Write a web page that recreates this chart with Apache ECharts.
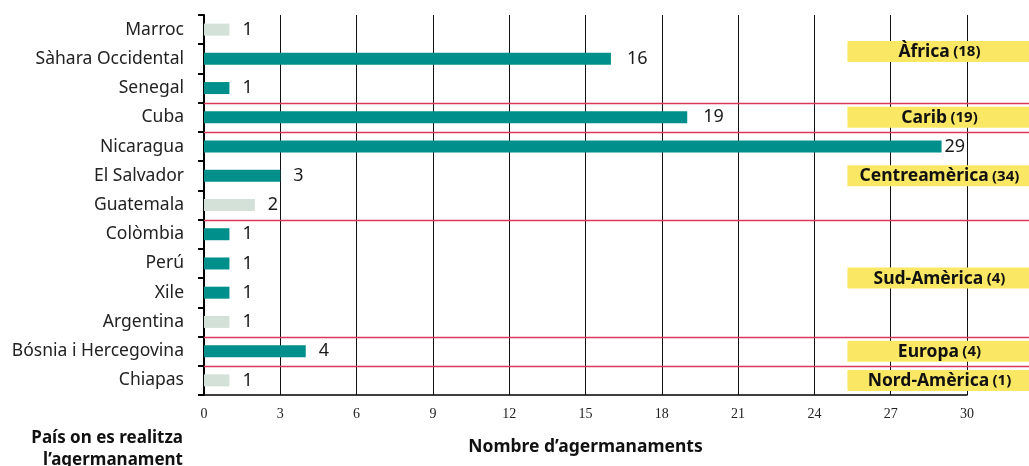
<!DOCTYPE html>
<html>
<head>
<meta charset="utf-8">
<script src="https://cdn.jsdelivr.net/npm/echarts@6/dist/echarts.min.js"></script>
<style>
html,body{margin:0;padding:0;background:#fff;}
#chart{width:1029px;height:466px;}
</style>
</head>
<body>
<div id="chart"></div>
<script>
const categories = ['Marroc','Sàhara Occidental','Senegal','Cuba','Nicaragua','El Salvador','Guatemala','Colòmbia','Perú','Xile','Argentina','Bósnia i Hercegovina','Chiapas'];
const values = [1,16,1,19,29,3,2,1,1,1,1,4,1];
const lightRows = ['Marroc','Guatemala','Argentina','Chiapas'];
const xTicks = [0,3,6,9,12,15,18,21,24,27,30];
const regionNames = ['Àfrica','Carib','Centreamèrica','Sud-Amèrica','Europa','Nord-Amèrica'];
const regionCounts = [18,19,34,4,4,1];
const regionFirst = [0,3,4,7,11,12];
const regionLast = [2,3,6,10,11,12];
const xAxisName = 'Nombre d’agermanaments';
const yAxisName = 'País on es realitza\nl’agermanament';

const TEAL = '#008F8A', LIGHT = '#D4E1D9', RED = '#D93A5C', YELLOW = '#FAE864';
const FONT = 'Noto Sans';

const chart = echarts.init(document.getElementById('chart'));
const option = {
  animation: false,
  grid: {left: 204, right: 62, top: 15, bottom: 71, containLabel: false},
  xAxis: {
    type: 'value', min: 0, max: 30, interval: 3,
    axisLine: {show: true, lineStyle: {color: '#000', width: 1.5}},
    axisTick: {show: false},
    splitLine: {show: true, lineStyle: {color: '#111', width: 1}},
    axisLabel: {fontFamily: 'Liberation Serif', fontSize: 14, color: '#222', margin: 12,
      formatter: v => xTicks.includes(v) ? String(v) : ''},
    name: xAxisName, nameLocation: 'middle', nameGap: 43,
    nameTextStyle: {fontFamily: FONT, fontWeight: 'bold', fontSize: 17.5, color: '#111'}
  },
  yAxis: {
    type: 'category', data: categories, inverse: true,
    axisLine: {show: true, lineStyle: {color: '#000', width: 2}},
    axisTick: {show: true, length: 6, lineStyle: {color: '#000', width: 2}},
    axisLabel: {fontFamily: FONT, fontSize: 17.5, color: '#222', margin: 20},
    splitLine: {show: false}
  },
  series: [{
    type: 'bar', barWidth: 12,
    data: values.map((v, i) => ({
      value: v,
      itemStyle: {color: lightRows.includes(categories[i]) ? LIGHT : TEAL},
      label: {distance: v >= 29 ? 3 : (v >= 10 ? 16 : 13)}
    })),
    label: {show: true, position: 'right', fontFamily: FONT, fontSize: 18, color: '#1a1a1a'}
  }]
};
chart.setOption(option);

function yAt(idx) {
  const y0 = chart.convertToPixel({yAxisIndex: 0}, 0);
  const y1 = chart.convertToPixel({yAxisIndex: 0}, 1);
  return y0 + idx * (y1 - y0);
}
const x0 = chart.convertToPixel({xAxisIndex: 0}, 0);
const boxLeft = chart.convertToPixel({xAxisIndex: 0}, 25.3);
const W = chart.getWidth();
const graphics = [];
for (let r = 0; r < regionLast.length - 1; r++) {
  const y = Math.round(yAt(regionLast[r] + 0.5)) + 0.5;
  graphics.push({type: 'line', z: 10, shape: {x1: x0, y1: y, x2: W, y2: y}, style: {stroke: RED, lineWidth: 1.5}});
}
regionNames.forEach((name, r) => {
  let c = (regionFirst[r] + regionLast[r]) / 2;
  if (r === 0) c -= 0.25;
  const yc = yAt(c);
  graphics.push({type: 'rect', z: 20, shape: {x: boxLeft, y: yc - 10.5, width: W - boxLeft, height: 21}, style: {fill: YELLOW}});
  graphics.push({type: 'text', z: 21, x: boxLeft + 92, y: yc + 0.5,
    style: {text: '{a|' + name + '} {b|(' + regionCounts[r] + ')}', align: 'center', verticalAlign: 'middle',
      rich: {a: {fontFamily: FONT, fontWeight: 'bold', fontSize: 17.5, fill: '#111'},
             b: {fontFamily: FONT, fontWeight: 'bold', fontSize: 15, fill: '#111'}}}});
});
graphics.push({type: 'text', x: 183, y: 427,
  style: {text: yAxisName, align: 'right', verticalAlign: 'top', lineHeight: 22,
    fontFamily: FONT, fontWeight: 'bold', fontSize: 17, fill: '#111'}});
chart.setOption({graphic: graphics});
</script>
</body>
</html>
